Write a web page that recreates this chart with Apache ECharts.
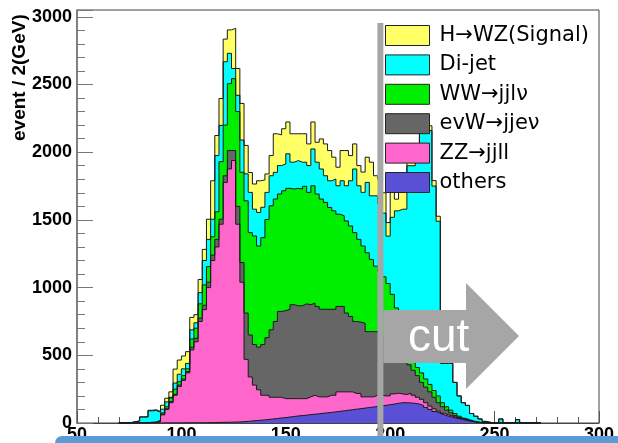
<!DOCTYPE html>
<html><head><meta charset="utf-8">
<script src="https://cdn.jsdelivr.net/npm/echarts@6/dist/echarts.min.js"></script>
<style>html,body{margin:0;padding:0;background:#fff}#c{width:618px;height:443px}</style>
</head><body><div id="c"></div>
<script>
// bins of 2 GeV, first bin starts at 70 GeV
const binStart = 70, binWidth = 2;
const seriesNames = ['H\u2192WZ(Signal)', 'Di-jet', 'WW\u2192jjl\u03bd', 'evW\u2192jje\u03bd', 'ZZ\u2192jjll', 'others'];
const seriesColors = ['#ffff66', '#00ffff', '#00ee00', '#666666', '#ff66cc', '#5a50d5'];
// cumulative (stacked) heights, one value per bin
const totalTop = [0,0,3,10,15,45,45,94,98,85,
 131,183,230,398,465,495,527,780,800,1060,
 1282,1505,1789,2123,2396,2835,2903,2915,2618,2360,
 2050,1850,1765,1789,1795,1839,1975,2136,2128,2173,
 2223,2136,2136,2136,2136,2061,2223,2073,2098,2061,
 2012,1963,1889,2012,2012,1975,2061,1901,1853,1963,
 1926,1826,1800,1700,1480,1727,1653,1740,1745,1950,
 1960,1990,2220,2210,2195,1790,1527,445,445,440,
 300,200,150,130,70,50,30,12,5,0,
 0,30,0,0,0,25,0,0,0,0,0];
const dijetTop = [0,0,3,10,15,45,45,90,92,80,
 102,156,190,295,360,400,440,688,740,963,
 1200,1356,1505,1975,2198,2668,2730,2618,2420,2090,
 1840,1703,1579,1555,1593,1703,1826,1851,1901,1913,
 1988,1926,1938,1926,1926,1901,2024,1926,1876,1826,
 1789,1802,1752,1789,1752,1789,1876,1752,1703,1777,
 1678,1678,1620,1550,1380,1519,1567,1579,1579,1900,
 1900,1940,2170,2180,2160,1750,1490,440,440,440,
 300,200,150,130,70,50,30,12,5,0,
 0,30,0,0,0,25,0,0,0,0,0];
const wwTop = [0,0,0,0,1,2,3,5,8,20,
 75,120,185,250,305,350,400,620,700,880,
 1020,1155,1375,1560,1930,2200,2506,2543,2300,1851,
 1641,1406,1381,1307,1369,1503,1604,1654,1691,1715,
 1733,1728,1733,1728,1748,1703,1752,1691,1654,1629,
 1592,1567,1542,1530,1492,1455,1406,1356,1307,1257,
 1208,1158,1120,1080,1030,950,850,740,630,540,
 460,410,370,325,285,240,200,150,120,95,
 70,50,35,25,15,8,3,1,0,0,
 0,0,0,0,0,0,0,0,0,0,0];
const evwTop = [0,0,0,0,1,1,2,3,5,12,
 65,105,158,212,280,325,380,560,625,775,
 870,1040,1240,1356,1505,1826,2012,2012,1600,1185,
 812,650,580,560,580,630,688,750,824,830,
 840,874,866,866,880,874,886,861,840,840,
 840,840,861,861,812,787,750,745,737,675,
 675,675,660,640,620,600,570,540,480,430,
 390,350,300,265,230,190,150,120,95,75,
 55,40,30,20,12,6,2,1,0,0,
 0,0,0,0,0,0,0,0,0,0,0];
const zzTop = [0,0,0,0,0,0,1,2,3,8,
 60,100,150,205,270,315,370,540,600,750,
 837,1000,1200,1300,1468,1777,1876,1938,1468,1040,
 470,340,280,245,205,205,190,190,190,180,
 180,180,180,180,180,193,205,193,193,193,
 205,205,230,230,230,230,218,218,193,193,
 193,205,205,200,200,215,220,215,210,220,
 205,190,175,150,125,105,88,72,60,50,
 40,32,25,18,11,6,2,1,0,0,
 0,0,0,0,0,0,0,0,0,0,0];
const othersTop = [0,0,0,0,0,0,0,0,0,0,
 1,1,1,1,1,2,2,2,2,2,
 2,3,3,4,5,5,6,7,8,10,
 12,15,18,20,23,26,30,33,37,40,
 44,48,52,55,58,62,65,68,72,75,
 78,82,86,90,94,98,102,106,110,114,
 118,122,125,130,135,140,145,150,150,148,
 145,140,130,115,100,85,72,60,50,42,
 35,28,22,16,10,5,2,1,0,0,
 0,0,0,0,0,0,0,0,0,0,0];
const layers = [totalTop, dijetTop, wwTop, evwTop, zzTop, othersTop];
const xTicks = [50, 300, 50];   // min, max, interval
const yTicks = [0, 3050, 500];
const cutValue = 195.3;
const FONT = '"Liberation Sans", Arial, Helvetica, sans-serif';
const LEGEND_FONT = '"DejaVu Sans", "Liberation Sans", sans-serif';

function stepPoints(arr) {
  const pts = arr.map((v, k) => [binStart + k * binWidth, v]);
  pts.push([binStart + arr.length * binWidth, 0]);
  return pts;
}

const chart = echarts.init(document.getElementById('c'), null, {renderer: 'canvas'});
const series = layers.map((arr, i) => ({
  name: seriesNames[i],
  type: 'line',
  step: 'end',
  data: stepPoints(arr),
  symbol: 'none',
  showSymbol: false,
  silent: true,
  lineStyle: {color: '#1a1a1a', width: 1},
  itemStyle: {color: seriesColors[i], borderColor: '#222', borderWidth: 1},
  areaStyle: {color: seriesColors[i], opacity: 1},
  z: 2
}));

chart.setOption({
  animation: false,
  backgroundColor: '#ffffff',
  grid: {left: 77, right: 19, top: 10, bottom: 20, show: true, borderColor: '#444', borderWidth: 1,
         containLabel: false, outerBoundsMode: 'none'},
  legend: {
    data: seriesNames, orient: 'vertical', left: 385, top: 25, padding: 0,
    icon: 'rect', itemWidth: 44, itemHeight: 20, itemGap: 8.4,
    itemStyle: {borderColor: '#222', borderWidth: 1},
    textStyle: {fontSize: 21, lineHeight: 20, fontFamily: LEGEND_FONT, color: '#000', padding: [0, 0, 0, 5]},
    selectedMode: false, z: 5
  },
  xAxis: {
    type: 'value', min: xTicks[0], max: xTicks[1], interval: xTicks[2],
    axisLine: {show: true, onZero: false, lineStyle: {color: '#444', width: 1}},
    axisTick: {show: true, inside: true, length: 12, lineStyle: {color: '#555'}},
    minorTick: {show: true, splitNumber: 5, length: 6, lineStyle: {color: '#555'}},
    splitLine: {show: false},
    axisLabel: {fontSize: 18, fontWeight: 'bold', color: '#000', margin: 3, fontFamily: FONT,
                formatter: v => String(v)}
  },
  yAxis: {
    type: 'value', min: yTicks[0], max: yTicks[1], interval: yTicks[2],
    axisLine: {show: true, lineStyle: {color: '#777', width: 1.5}},
    axisTick: {show: true, inside: true, length: 16, lineStyle: {color: '#777'}},
    minorTick: {show: true, splitNumber: 5, length: 8, lineStyle: {color: '#777'}},
    splitLine: {show: false},
    axisLabel: {fontSize: 18, fontWeight: 'bold', color: '#000', margin: 5, fontFamily: FONT, showMaxLabel: false,
                formatter: v => String(v)}
  },
  series: series
});

const cx = chart.convertToPixel({xAxisIndex: 0}, cutValue);
chart.setOption({
  graphic: [
    {type: 'text', x: 10, y: 141, rotation: Math.PI / 2, z: 10,
     style: {text: 'event / 2(GeV)', font: 'bold 19px ' + FONT, fill: '#000', align: 'left', verticalAlign: 'top'}},
    {type: 'rect', z: 20, shape: {x: cx - 3, y: 23, width: 6, height: 414}, style: {fill: '#a6a6a6'}},
    {type: 'polygon', z: 20, shape: {points: [[cx + 3, 310], [466, 310], [466, 283], [519, 336], [466, 389], [466, 363], [cx + 3, 363]]},
     style: {fill: '#a6a6a6'}},
    {type: 'text', z: 21, x: 408, y: 338, style: {text: 'cut', font: '46px ' + FONT, fill: '#ffffff', align: 'left', verticalAlign: 'middle'}},
    {type: 'rect', z: 30, shape: {x: 55, y: 436, width: 600, height: 14, r: 7}, style: {fill: '#5b9bd5'}}
  ]
});
</script></body></html>
